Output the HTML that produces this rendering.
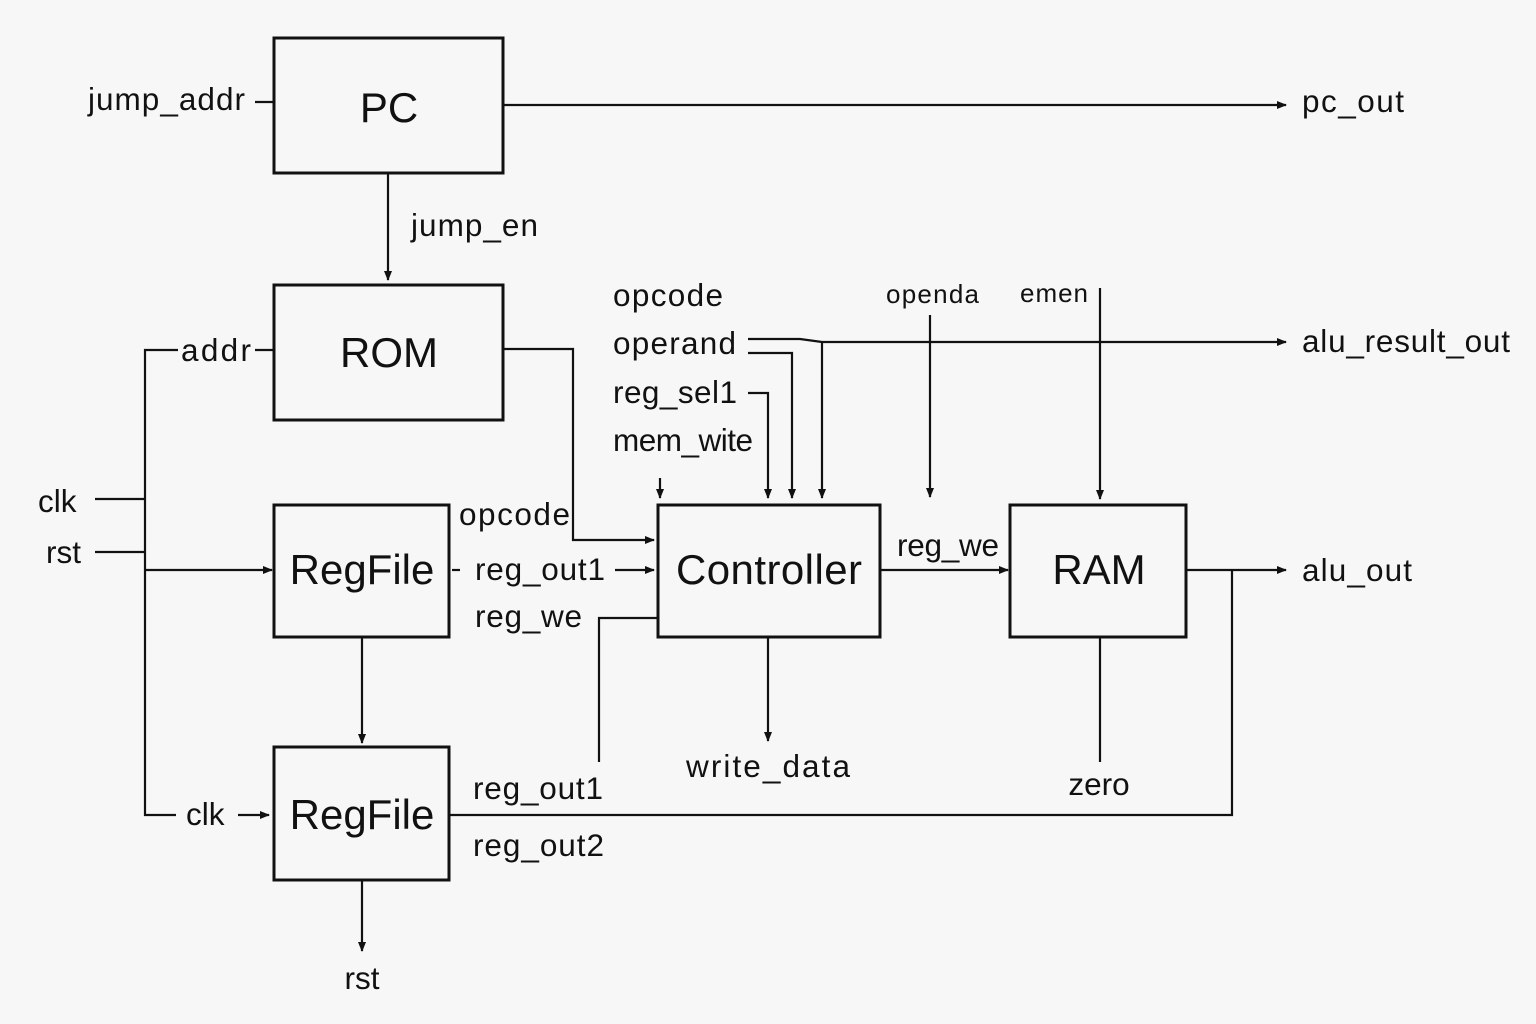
<!DOCTYPE html>
<html><head><meta charset="utf-8"><style>
html,body{margin:0;padding:0;background:#f7f7f7;}
svg{display:block}
text{font-family:"Liberation Sans","DejaVu Sans",sans-serif;fill:#111;}
.l{font-size:31.5px}
.b{font-size:42px}
</style></head><body>
<svg width="1536" height="1024" viewBox="0 0 1536 1024" xmlns="http://www.w3.org/2000/svg">
<defs><marker id="a" markerWidth="10" markerHeight="10" refX="9" refY="5" orient="auto" markerUnits="userSpaceOnUse"><path d="M0,1 L10,5 L0,9 Z" fill="#111"/></marker></defs>
<rect width="1536" height="1024" fill="#f7f7f7"/>
<g fill="none" stroke="#111" stroke-width="3">
<rect x="274" y="38" width="229" height="135"/>
<rect x="274" y="285" width="229" height="135"/>
<rect x="274" y="505" width="175" height="132"/>
<rect x="274" y="747" width="175" height="133"/>
<rect x="658" y="505" width="222" height="132"/>
<rect x="1010" y="505" width="176" height="132"/>
</g>
<g fill="none" stroke="#111" stroke-width="2.2">
<line x1="255" y1="102" x2="274" y2="102"/>
<line x1="503" y1="105" x2="1286" y2="105" marker-end="url(#a)"/>
<line x1="388" y1="173" x2="388" y2="280" marker-end="url(#a)"/>
<line x1="255" y1="350" x2="274" y2="350"/>
<polyline points="178,350 145,350 145,815 176,815"/>
<line x1="95" y1="499" x2="145" y2="499"/>
<line x1="95" y1="552" x2="145" y2="552"/>
<line x1="145" y1="570" x2="272" y2="570" marker-end="url(#a)"/>
<line x1="238" y1="815" x2="269" y2="815" marker-end="url(#a)"/>
<polyline points="503,349 573,349 573,540 654,540" marker-end="url(#a)"/>
<line x1="452" y1="570" x2="460" y2="570"/>
<line x1="615" y1="570" x2="654" y2="570" marker-end="url(#a)"/>
<polyline points="658,618 599,618 599,762"/>
<line x1="362" y1="637" x2="362" y2="743" marker-end="url(#a)"/>
<line x1="362" y1="880" x2="362" y2="951" marker-end="url(#a)"/>
<polyline points="449,815 1232,815 1232,570"/>
<line x1="1186" y1="570" x2="1286" y2="570" marker-end="url(#a)"/>
<line x1="880" y1="570" x2="1008" y2="570" marker-end="url(#a)"/>
<line x1="768" y1="637" x2="768" y2="741" marker-end="url(#a)"/>
<line x1="1100" y1="637" x2="1100" y2="762"/>
<polyline points="748,339 800,339 822,342 1286,342" marker-end="url(#a)"/>
<polyline points="748,353 792,353 792,498" marker-end="url(#a)"/>
<line x1="822" y1="342" x2="822" y2="498" marker-end="url(#a)"/>
<polyline points="748,393 768,393 768,498" marker-end="url(#a)"/>
<line x1="660" y1="478" x2="660" y2="498" marker-end="url(#a)"/>
<line x1="930" y1="315" x2="930" y2="497" marker-end="url(#a)"/>
<line x1="1100" y1="288" x2="1100" y2="499" marker-end="url(#a)"/>
</g>
<text class="b" x="389" y="122" text-anchor="middle">PC</text>
<text class="b" x="389" y="367" text-anchor="middle">ROM</text>
<text class="b" x="362" y="584" text-anchor="middle">RegFile</text>
<text class="b" x="362" y="829" text-anchor="middle">RegFile</text>
<text class="b" x="769" y="584" text-anchor="middle" textLength="186">Controller</text>
<text class="b" x="1099" y="584" text-anchor="middle">RAM</text>
<text class="l" x="245" y="110" text-anchor="end" textLength="157">jump_addr</text>
<text class="l" x="1302" y="112" textLength="102">pc_out</text>
<text class="l" x="411" y="236" textLength="127">jump_en</text>
<text class="l" x="181" y="361" textLength="70">addr</text>
<text class="l" x="38" y="512">clk</text>
<text class="l" x="46" y="563">rst</text>
<text class="l" x="186" y="825">clk</text>
<text class="l" x="459" y="525" textLength="111">opcode</text>
<text class="l" x="475" y="580" textLength="130">reg_out1</text>
<text class="l" x="475" y="627" textLength="107">reg_we</text>
<text class="l" x="473" y="799" textLength="130">reg_out1</text>
<text class="l" x="473" y="856" textLength="131">reg_out2</text>
<text class="l" x="362" y="989" text-anchor="middle">rst</text>
<text class="l" x="768" y="777" text-anchor="middle" textLength="164">write_data</text>
<text class="l" x="1099" y="795" text-anchor="middle">zero</text>
<text class="l" x="897" y="556" textLength="102">reg_we</text>
<text class="l" x="1302" y="581" textLength="110">alu_out</text>
<text class="l" x="1302" y="352" textLength="208">alu_result_out</text>
<text class="l" x="613" y="306" textLength="110">opcode</text>
<text class="l" x="613" y="354" textLength="123">operand</text>
<text class="l" x="613" y="403" textLength="124">reg_sel1</text>
<text class="l" x="613" y="451" textLength="140">mem_wite</text>
<text style="font-size:26px" x="886" y="303" textLength="93">openda</text>
<text style="font-size:26px" x="1020" y="302" textLength="68">emen</text>
</svg>
</body></html>
